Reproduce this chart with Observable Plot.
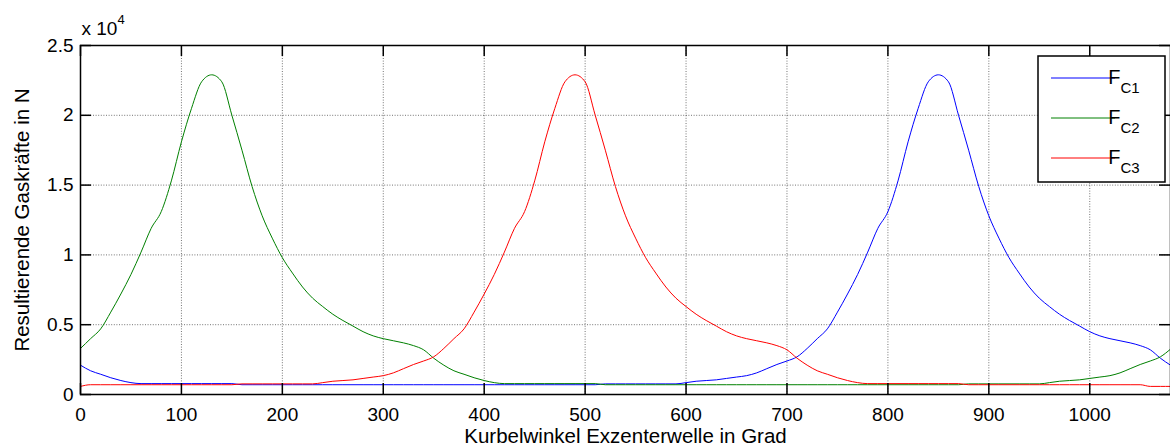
<!DOCTYPE html>
<html>
<head>
<meta charset="utf-8">
<script src="https://cdn.jsdelivr.net/npm/d3@7"></script>
<script src="https://cdn.jsdelivr.net/npm/@observablehq/plot@0.6"></script>
<style>
  html, body { margin: 0; padding: 0; background: #fff; }
  svg { display: block; }
</style>
</head>
<body>
<div id="chart"></div>
<script>
// Crank angle of the eccentric shaft (degrees)
const angle = [0,10,20,30,40,50,60,70,80,90,100,110,120,130,140,150,160,170,180,190,200,210,220,230,240,250,260,270,280,290,300,310,320,330,340,350,360,370,380,390,400,410,420,430,440,450,460,470,480,490,500,510,520,530,540,550,560,570,580,590,600,610,620,630,640,650,660,670,680,690,700,710,720,730,740,750,760,770,780,790,800,810,820,830,840,850,860,870,880,890,900,910,920,930,940,950,960,970,980,990,1000,1010,1020,1030,1040,1050,1060,1070,1080];

// Resulting gas forces in N
const fc1 = [2100,1700,1450,1200,1000,850,780,780,780,780,780,780,780,780,780,780,700,700,700,700,700,700,700,700,700,700,700,700,700,700,700,700,700,700,700,700,700,700,700,700,700,700,700,700,700,700,700,700,700,700,700,700,760,760,760,760,760,760,760,760,850,950,1000,1050,1150,1250,1350,1550,1850,2150,2400,2700,3300,4000,4700,5900,7200,8600,10200,11900,13100,15300,18100,20500,22400,22900,22400,20000,17500,14900,12800,11200,9800,8700,7700,6900,6300,5750,5300,4900,4500,4200,4000,3850,3700,3500,3200,2600,2100];
const fc2 = [3300,4000,4700,5900,7200,8600,10200,11900,13100,15300,18100,20500,22400,22900,22400,20000,17500,14900,12800,11200,9800,8700,7700,6900,6300,5750,5300,4900,4500,4200,4000,3850,3700,3500,3200,2600,2100,1700,1450,1200,1000,850,780,780,780,780,780,780,780,780,780,780,700,700,700,700,700,700,700,700,700,700,700,700,700,700,700,700,700,700,700,700,700,700,700,700,700,700,700,700,700,700,700,700,700,700,700,700,760,760,760,760,760,760,760,760,850,950,1000,1050,1150,1250,1350,1550,1850,2150,2400,2700,3250];
const fc3 = [580,700,700,700,700,700,700,700,700,700,700,700,700,700,700,700,760,760,760,760,760,760,760,760,850,950,1000,1050,1150,1250,1350,1550,1850,2150,2400,2700,3300,4000,4700,5900,7200,8600,10200,11900,13100,15300,18100,20500,22400,22900,22400,20000,17500,14900,12800,11200,9800,8700,7700,6900,6300,5750,5300,4900,4500,4200,4000,3850,3700,3500,3200,2600,2100,1700,1450,1200,1000,850,780,780,780,780,780,780,780,780,780,780,700,700,700,700,700,700,700,700,700,700,700,700,700,700,700,700,700,700,580,580,580];

const seriesNames = ["C1", "C2", "C3"];
const seriesColors = ["#0000ff", "#008000", "#ff0000"];

const xTicks = [0,100,200,300,400,500,600,700,800,900,1000];
const yTicks = [0,5000,10000,15000,20000,25000];
const yTickLabels = ["0","0.5","1","1.5","2","2.5"];

const xLabel = "Kurbelwinkel Exzenterwelle in Grad";
const yLabel = "Resultierende Gaskräfte in N";
const exponentBase = "x 10";
const exponent = "4";

const seriesValues = [fc1, fc2, fc3];
const table = seriesValues.flatMap((vals, s) =>
  angle.map((a, i) => ({angle: a, force: vals[i], series: seriesNames[s]})));

const W = 1170, H = 448;
const mL = 80, mT = 45, mB = 54, mR = 0;
const plotW = W - mL - mR, plotH = H - mT - mB;
const tickLen = 11;
const font = "'Liberation Sans', Arial, Helvetica, sans-serif";
const gridStyle = {stroke: "#000", strokeOpacity: 0.55, strokeDasharray: "1,1.6", strokeWidth: 1};

const chart = Plot.plot({
  width: W,
  height: H,
  marginLeft: mL,
  marginTop: mT,
  marginBottom: mB,
  marginRight: mR,
  style: {fontFamily: font, background: "#fff", overflow: "visible"},
  x: {domain: [0, 1080], label: null},
  y: {domain: [0, 25000], label: null},
  marks: [
    Plot.gridX(xTicks, gridStyle),
    Plot.gridY(yTicks, gridStyle),
    ...seriesNames.map((name, s) =>
      Plot.line(table.filter(d => d.series === name), {
        x: "angle", y: "force", stroke: seriesColors[s], strokeWidth: 1, curve: "monotone-x"
      })),
    // inward tick marks on all four sides
    Plot.tickX(xTicks, {x: d => d, insetTop: plotH - tickLen, stroke: "#000", strokeWidth: 1.5}),
    Plot.tickX(xTicks, {x: d => d, insetBottom: plotH - tickLen, stroke: "#000", strokeWidth: 1.5}),
    Plot.tickY(yTicks, {y: d => d, insetRight: plotW - tickLen, stroke: "#000", strokeWidth: 1.5}),
    Plot.tickY(yTicks, {y: d => d, insetLeft: plotW - tickLen, stroke: "#000", strokeWidth: 1.5}),
    Plot.frame({stroke: "#000", strokeWidth: 1.5}),
    Plot.axisX(xTicks, {tickSize: 0, tickPadding: 13, fontSize: 19, label: null, fill: "#000",
      tickFormat: d => String(d)}),
    Plot.axisY(yTicks, {tickSize: 0, tickPadding: 7, fontSize: 19, label: null, fill: "#000",
      tickFormat: d => yTickLabels[yTicks.indexOf(d)]}),
    Plot.text([xLabel], {text: d => d, frameAnchor: "bottom", textAnchor: "middle", lineAnchor: "middle",
      dy: 42, fontSize: 20.5, fill: "#000"}),
    Plot.text([yLabel], {text: d => d, frameAnchor: "left", textAnchor: "middle", lineAnchor: "middle",
      rotate: -90, dx: -58, fontSize: 20.5, fill: "#000"}),
    Plot.text([exponentBase], {text: d => d, frameAnchor: "top-left", textAnchor: "start", lineAnchor: "bottom", dy: -11, dx: 1, fontSize: 19, fill: "#000"}),
    Plot.text([exponent], {text: d => d, frameAnchor: "top-left", textAnchor: "start", lineAnchor: "bottom", dy: -22, dx: 37, fontSize: 13, fill: "#000"})
  ]
});

document.getElementById("chart").appendChild(chart);

// Legend (MATLAB style box, inside the plot area, top right)
const svg = d3.select(chart);
const lg = svg.append("g").attr("font-family", font);
const lx = 1038, ly = 56, lw = 127, lh = 126;
lg.append("rect").attr("x", lx).attr("y", ly).attr("width", lw).attr("height", lh)
  .attr("fill", "#fff").attr("stroke", "#000").attr("stroke-width", 1.5);
seriesNames.forEach((name, i) => {
  const cy = ly + 22 + i * 40;
  lg.append("line").attr("x1", lx + 13).attr("x2", lx + 77).attr("y1", cy).attr("y2", cy)
    .attr("stroke", seriesColors[i]).attr("stroke-width", 1);
  const t = lg.append("text").attr("x", lx + 86).attr("y", cy + 6).attr("font-size", 20).attr("fill", "#000");
  t.append("tspan").text("F");
  t.append("tspan").attr("dy", 9).attr("font-size", 15).text(name);
});
</script>
</body>
</html>
